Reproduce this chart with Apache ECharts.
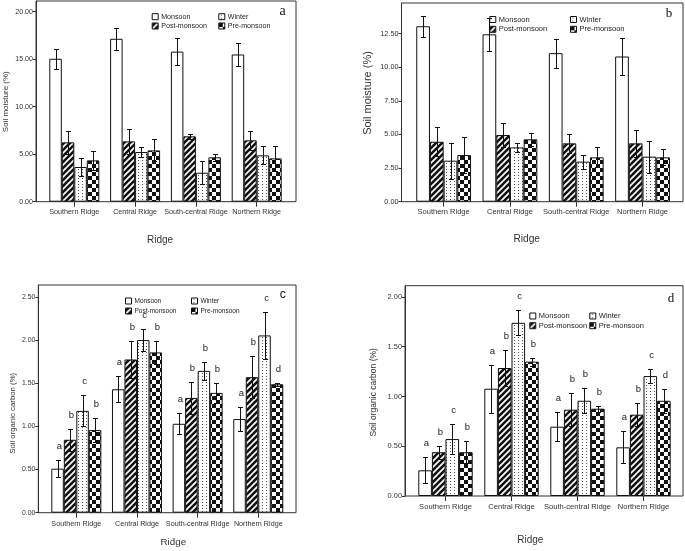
<!DOCTYPE html>
<html>
<head>
<meta charset="utf-8">
<script src="https://cdn.jsdelivr.net/npm/echarts@6/dist/echarts.min.js"></script>
<style>html,body{margin:0;padding:0;background:#fff;}#c{width:685px;height:551px;}#dbg{position:absolute;left:0;top:530px;font:9px sans-serif;color:red;}</style>
</head>
<body>
<div id="c"></div>
<div id="dbg"></div>
<script>
window.onerror = function (m) { document.getElementById('dbg').textContent += ' ' + m; };
// ---------------- DATA ----------------
const ridges = ['Southern Ridge', 'Central Ridge', 'South-central Ridge', 'Northern Ridge'];
const seasons = ['Monsoon', 'Post-monsoon', 'Winter', 'Pre-monsoon'];

// Panel a: soil moisture (%)
const aMonsoon = [15.05, 17.15, 15.80, 15.50];
const aMonsoonErr = [1.05, 1.15, 1.45, 1.22];
const aPost = [6.25, 6.35, 6.88, 6.46];
const aPostErr = [1.20, 1.35, 0.28, 1.00];
const aWinter = [3.65, 5.23, 3.05, 4.88];
const aWinterErr = [0.95, 0.55, 1.20, 0.95];
const aPre = [4.35, 5.40, 4.67, 4.56];
const aPreErr = [1.00, 1.15, 0.38, 1.30];

// Panel b: soil moisture (%)
const bMonsoon = [13.05, 12.45, 11.05, 10.80];
const bMonsoonErr = [0.80, 1.24, 1.07, 1.39];
const bPost = [4.46, 4.96, 4.34, 4.34];
const bPostErr = [1.07, 0.92, 0.72, 1.00];
const bWinter = [3.05, 4.04, 2.98, 3.35];
const bWinterErr = [1.34, 0.35, 0.52, 1.20];
const bPre = [3.47, 4.64, 3.30, 3.30];
const bPreErr = [1.32, 0.50, 0.74, 0.60];

// Panel c: soil organic carbon (%)
const cMonsoon = [0.51, 1.43, 1.03, 1.085];
const cMonsoonErr = [0.095, 0.15, 0.12, 0.14];
const cPost = [0.845, 1.775, 1.33, 1.57];
const cPostErr = [0.13, 0.22, 0.19, 0.24];
const cWinter = [1.18, 2.00, 1.643, 2.054];
const cWinterErr = [0.18, 0.13, 0.10, 0.27];
const cPre = [0.957, 1.857, 1.388, 1.488];
const cPreErr = [0.14, 0.13, 0.12, 0.02];

// Panel d: soil organic carbon (%)
const dMonsoon = [0.258, 1.078, 0.696, 0.489];
const dMonsoonErr = [0.13, 0.24, 0.145, 0.16];
const dPost = [0.44, 1.286, 0.867, 0.817];
const dPostErr = [0.065, 0.18, 0.165, 0.115];
const dWinter = [0.572, 1.74, 0.957, 1.205];
const dWinterErr = [0.15, 0.125, 0.125, 0.07];
const dPre = [0.44, 1.35, 0.877, 0.957];
const dPreErr = [0.11, 0.04, 0.03, 0.12];

// significance letters (per season, per ridge)
const letMonsoon = ['a', 'a', 'a', 'a'];
const letPost = ['b', 'b', 'b', 'b'];
const letWinter = ['c', 'c', 'b', 'c'];
const letPre = ['b', 'b', 'b', 'd'];

// tick labels
const aTicks = [0, 5, 10, 15, 20];
const bTicks = [0, 2.5, 5, 7.5, 10, 12.5];
const cTicks = [0, 0.5, 1, 1.5, 2, 2.5];
const dTicks = [0, 0.5, 1, 1.5, 2];

// ---------------- PATTERNS ----------------
function mk(w, h, draw) {
  const cv = document.createElement('canvas');
  cv.width = w; cv.height = h;
  draw(cv.getContext('2d'));
  return { image: cv, repeat: 'repeat' };
}
const patStripes = mk(6, 6, ctx => {
  ctx.fillStyle = '#111'; ctx.fillRect(0, 0, 6, 6);
  ctx.strokeStyle = '#fff'; ctx.lineWidth = 1.7;
  ctx.beginPath();
  ctx.moveTo(-1, 7); ctx.lineTo(7, -1);
  ctx.moveTo(-1, 1); ctx.lineTo(1, -1);
  ctx.moveTo(5, 7); ctx.lineTo(7, 5);
  ctx.stroke();
});
const patChecker = mk(8, 8, ctx => {
  ctx.fillStyle = '#fff'; ctx.fillRect(0, 0, 8, 8);
  ctx.fillStyle = '#111';
  ctx.fillRect(0, 0, 4, 4); ctx.fillRect(4, 4, 4, 4);
});
const patDots = mk(4, 3, ctx => {
  ctx.fillStyle = '#fff'; ctx.fillRect(0, 0, 4, 3);
  ctx.fillStyle = '#555'; ctx.fillRect(2, 1, 1, 1);
});
const fills = ['#ffffff', patStripes, patDots, patChecker];

// ---------------- LAYOUT ----------------
const FONT = 'Liberation Sans, Arial, sans-serif';
const panels = [
  { means: [aMonsoon, aPost, aWinter, aPre], errs: [aMonsoonErr, aPostErr, aWinterErr, aPreErr], letters: null,
    ticks: aTicks, interval: 5,
    outer: { left: 36, top: 1, width: 260, height: 200.7 }, yMax: 21.13,
    inner: { left: 43.9, width: 243.2 }, bw: 12.5, yFont: 7.1, xFont: 7.2, xMargin: 6.4,
    legend: { c1: 151.7, c2: 218.3, r1: 16.7, spacing: 9.3, font: 7.1 },
    yName: { text: 'Soil moisture (%)', x: 5.5, y: 101.7, size: 8 },
    xName: { x: 160, y: 240, size: 10 },
    tag: { text: 'a', x: 282.7, y: 11, size: 14, family: 'Liberation Serif, serif' } },
  { means: [bMonsoon, bPost, bWinter, bPre], errs: [bMonsoonErr, bPostErr, bWinterErr, bPreErr], letters: null,
    ticks: bTicks, interval: 2.5,
    outer: { left: 401.5, top: 3, width: 281.5, height: 198.7 }, yMax: 14.78,
    inner: { left: 410.5, width: 265.2 }, bw: 13.7, yFont: 7.3, xFont: 7.5, xMargin: 6.5,
    legend: { c1: 489.3, c2: 570, r1: 19.5, spacing: 9.8, font: 7.5 },
    yName: { text: 'Soil moisture (%)', x: 368.3, y: 93, size: 11 },
    xName: { x: 526.7, y: 239, size: 10.2 },
    tag: { text: 'b', x: 669, y: 14, size: 13, family: 'Liberation Serif, serif' } },
  { means: [cMonsoon, cPost, cWinter, cPre], errs: [cMonsoonErr, cPostErr, cWinterErr, cPreErr],
    letters: [letMonsoon, letPost, letWinter, letPre],
    ticks: cTicks, interval: 0.5,
    outer: { left: 38.3, top: 285, width: 257.7, height: 227.7 }, yMax: 2.638,
    inner: { left: 46, width: 242.6 }, bw: 12.5, yFont: 6.9, xFont: 7.2, xMargin: 8,
    legend: { c1: 125, c2: 191, r1: 301, spacing: 10, font: 6.5 },
    yName: { text: 'Soil organic carbon (%)', x: 12.7, y: 413.3, size: 7.8 },
    xName: { x: 173.3, y: 542.7, size: 9.8 },
    tag: { text: 'c', x: 282.7, y: 294.3, size: 12, family: FONT } },
  { means: [dMonsoon, dPost, dWinter, dPre], errs: [dMonsoonErr, dPostErr, dWinterErr, dPreErr],
    letters: [letMonsoon, letPost, letWinter, letPre],
    ticks: dTicks, interval: 0.5,
    outer: { left: 405, top: 285.7, width: 278, height: 210.3 }, yMax: 2.113,
    inner: { left: 412.5, width: 264 }, bw: 13.6, yFont: 7.4, xFont: 7.6, xMargin: 6.5,
    legend: { c1: 529.3, c2: 589.3, r1: 316, spacing: 9.7, font: 7.5 },
    yName: { text: 'Soil organic carbon (%)', x: 373.3, y: 392.3, size: 8.5 },
    xName: { x: 530.3, y: 540, size: 10 },
    tag: { text: 'd', x: 671, y: 298.3, size: 13, family: 'Liberation Serif, serif' } }
];

const grid = [], xAxis = [], yAxis = [], series = [], legend = [], graphic = [];

panels.forEach((p, k) => {
  const gi = grid.length;
  p.gi = gi;
  grid.push({ left: p.outer.left, top: p.outer.top, width: p.outer.width, height: p.outer.height,
    show: true, borderColor: '#333', borderWidth: 1, backgroundColor: 'transparent' });
  grid.push({ left: p.inner.left, top: p.outer.top, width: p.inner.width, height: p.outer.height });

  xAxis.push({ gridIndex: gi, type: 'value', show: false, min: 0, max: 1 });
  yAxis.push({ gridIndex: gi, type: 'value', min: 0, max: p.yMax, interval: p.interval,
    axisLine: { show: true, lineStyle: { color: '#333', width: 1 } },
    axisTick: { show: true, inside: false, length: 3, lineStyle: { color: '#333' } },
    splitLine: { show: false },
    axisLabel: { showMaxLabel: false, margin: 3, fontSize: p.yFont, fontFamily: FONT, color: '#333',
      formatter: v => (p.ticks.some(t => Math.abs(t - v) < 1e-9) ? v.toFixed(2) : '') } });

  xAxis.push({ gridIndex: gi + 1, type: 'category', data: ridges, boundaryGap: true,
    axisLine: { show: false },
    axisTick: { show: true, alignWithLabel: true, length: 5, lineStyle: { color: '#333' } },
    axisLabel: { margin: p.xMargin, fontSize: p.xFont, fontFamily: FONT, color: '#333', interval: 0 } });
  yAxis.push({ gridIndex: gi + 1, type: 'value', show: false, min: 0, max: p.yMax });

  seasons.forEach((sn, s) => {
    series.push({ type: 'bar', name: sn, xAxisIndex: gi + 1, yAxisIndex: gi + 1,
      data: p.means[s], barWidth: p.bw, barGap: '0%',
      itemStyle: { color: fills[s], borderColor: '#111', borderWidth: 1 }, z: 2 });
  });

  const lg = (names, left) => ({
    data: names.map(n => ({ name: n, icon: 'rect' })), orient: 'vertical', left: left,
    top: p.legend.r1 - 4, padding: 0, itemWidth: 6, itemHeight: 6,
    itemGap: p.legend.spacing - 8, selectedMode: false,
    itemStyle: { borderColor: '#111', borderWidth: 1 },
    textStyle: { fontSize: p.legend.font, fontFamily: FONT, color: '#222', lineHeight: 8, padding: [0, 0, 0, -2] }
  });
  legend.push(lg(['Monsoon', 'Post-monsoon'], p.legend.c1));
  legend.push(lg(['Winter', 'Pre-monsoon'], p.legend.c2));

  graphic.push({ type: 'text', x: p.yName.x, y: p.yName.y, rotation: Math.PI / 2,
    style: { text: p.yName.text, fontSize: p.yName.size, fontFamily: FONT, fill: '#333', align: 'center', verticalAlign: 'middle' } });
  graphic.push({ type: 'text', x: p.xName.x, y: p.xName.y,
    style: { text: 'Ridge', fontSize: p.xName.size, fontFamily: FONT, fill: '#333', align: 'center', verticalAlign: 'middle' } });
  graphic.push({ type: 'text', x: p.tag.x, y: p.tag.y,
    style: { text: p.tag.text, fontSize: p.tag.size, fontFamily: p.tag.family, fill: '#111', align: 'center', verticalAlign: 'middle' } });
});

const chart = echarts.init(document.getElementById('c'), null, { renderer: 'canvas' });
chart.setOption({ animation: false, backgroundColor: '#fff', grid, xAxis, yAxis, series, legend });

// error bars and significance letters, positioned through the axes' own scales
panels.forEach(p => {
  const finder = { xAxisIndex: p.gi + 1, yAxisIndex: p.gi + 1 };
  const st = { stroke: '#111', lineWidth: 1 };
  for (let s = 0; s < 4; s++) {
    for (let i = 0; i < ridges.length; i++) {
      const m = p.means[s][i], e = p.errs[s][i];
      const pt = chart.convertToPixel(finder, [i, m + e]);
      const pb = chart.convertToPixel(finder, [i, Math.max(m - e, 0)]);
      const x = Math.round(pt[0] + (s - 1.5) * p.bw) + 0.5;
      const yt = Math.round(pt[1]) + 0.5, yb = Math.round(pb[1]) + 0.5;
      graphic.push({ type: 'line', z: 10, shape: { x1: x, y1: yt, x2: x, y2: yb }, style: st });
      graphic.push({ type: 'line', z: 10, shape: { x1: x - 2.5, y1: yt, x2: x + 2.5, y2: yt }, style: st });
      graphic.push({ type: 'line', z: 10, shape: { x1: x - 2.5, y1: yb, x2: x + 2.5, y2: yb }, style: st });
      if (p.letters) {
        graphic.push({ type: 'text', z: 10, x: x + 1, y: yt - 14,
          style: { text: p.letters[s][i], fontSize: 9.5, fontFamily: FONT, fill: '#222', align: 'center', verticalAlign: 'middle' } });
      }
    }
  }
});
chart.setOption({ graphic: graphic });
</script>
</body>
</html>
